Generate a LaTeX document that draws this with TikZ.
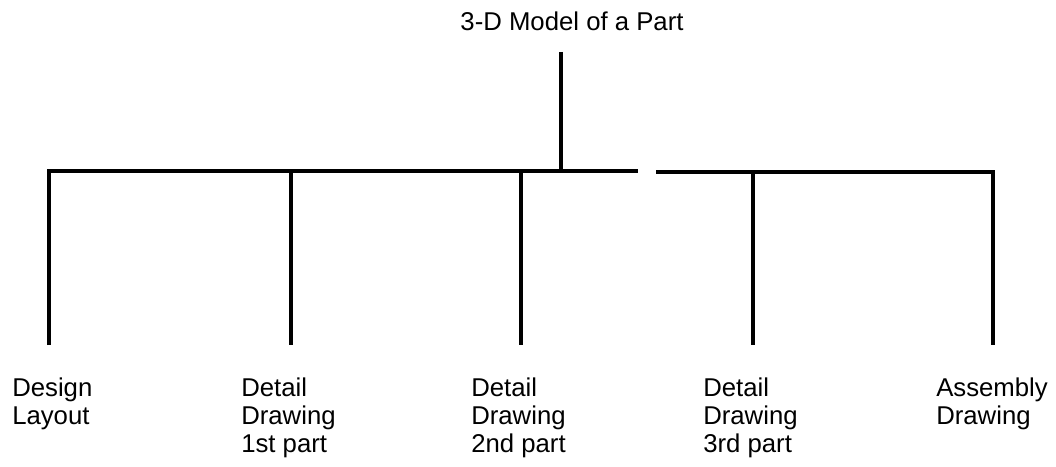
\documentclass[tikz,border=0pt]{standalone}
\usepackage{fontspec}
\setmainfont{Liberation Sans}
\begin{document}
\begin{tikzpicture}[x=0.75pt,y=-0.75pt]
\tikzset{
  conn/.style={line width=2.7pt, line join=miter},
  lbl/.style={anchor=north west, align=left, inner sep=0pt, font=\fontsize{19.3}{21}\selectfont},
  ttl/.style={anchor=base, inner sep=0pt, font=\fontsize{19.3}{21}\selectfont}
}
\useasboundingbox (0,0) rectangle (1056,467);
% title
\node[ttl] (title) at (572,31) {3-D Model of a Part};
% junction points
\coordinate (top) at (561,52);
\coordinate (j) at (561,171);
\coordinate (gapL) at (638,171);
\coordinate (gapR) at (656,172);
\coordinate (c1) at (49,171);
\coordinate (c2) at (291,171);
\coordinate (c3) at (521,171);
\coordinate (c4) at (753,172);
\coordinate (c5) at (993,172);
\coordinate (e1) at (49,345);
\coordinate (e2) at (291,345);
\coordinate (e3) at (521,345);
\coordinate (e4) at (753,345);
\coordinate (e5) at (993,345);
% labels
\node[lbl] (design) at (12,378) {Design\\Layout};
\node[lbl] (det1) at (241,378) {Detail\\Drawing\\1st part};
\node[lbl] (det2) at (471,378) {Detail\\Drawing\\2nd part};
\node[lbl] (det3) at (703,378) {Detail\\Drawing\\3rd part};
\node[lbl] (assy) at (936,378) {Assembly\\Drawing};
% connectors
\draw[conn] (top) -- (j);
\draw[conn] (e1) -- (c1) -- (gapL);
\draw[conn] (gapR) -- (c5) -- (e5);
\draw[conn] (c2) -- (e2);
\draw[conn] (c3) -- (e3);
\draw[conn] (c4) -- (e4);
\end{tikzpicture}
\end{document}
